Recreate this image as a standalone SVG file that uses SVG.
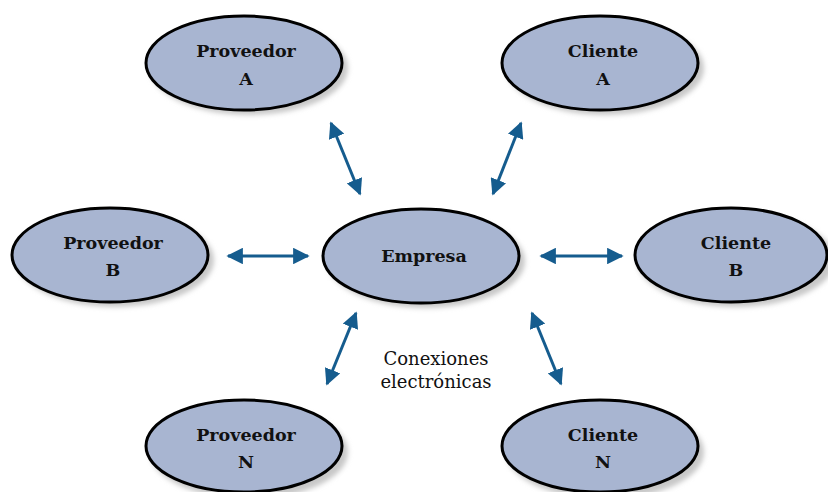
<svg xmlns="http://www.w3.org/2000/svg" width="828" height="492" viewBox="0 0 828 492">
<defs>
<filter id="sh" x="-20%" y="-20%" width="140%" height="140%"><feGaussianBlur stdDeviation="2.5"/></filter>
<marker id="ah" viewBox="0 0 10 10" refX="9" refY="5" markerWidth="5.5" markerHeight="5.5" orient="auto-start-reverse" markerUnits="strokeWidth"><path d="M0,0 L10,5 L0,10 Z" fill="#155c8e"/></marker>
</defs>
<style>
.shadow{fill:#c8c8c8;filter:url(#sh)}
.node{fill:#a8b5d1;stroke:#000;stroke-width:3}
.lbl{font-family:"DejaVu Serif","Liberation Serif",serif;font-weight:bold;font-size:17.5px;text-anchor:middle;fill:#111}
.cap{font-family:"DejaVu Serif","Liberation Serif",serif;font-size:18px;text-anchor:middle;fill:#111}
.con{stroke:#155c8e;stroke-width:3;fill:none;marker-start:url(#ah);marker-end:url(#ah)}
</style>
<rect width="828" height="492" fill="#fff"/>
<g id="connectors">
<line class="con" x1="331" y1="123" x2="360" y2="194"/>
<line class="con" x1="521" y1="123" x2="493" y2="194"/>
<line class="con" x1="228" y1="256" x2="308" y2="256"/>
<line class="con" x1="541" y1="256" x2="622" y2="256"/>
<line class="con" x1="356" y1="313" x2="327" y2="384"/>
<line class="con" x1="532" y1="313" x2="561" y2="384"/>
</g>
<g id="proveedorA">
<ellipse class="shadow" cx="249" cy="68" rx="99" ry="47"/>
<ellipse class="node" cx="244" cy="63" rx="98" ry="47"/>
<text class="lbl" x="246" y="57">Proveedor</text>
<text class="lbl" x="246" y="85">A</text>
</g>
<g id="clienteA">
<ellipse class="shadow" cx="605" cy="68" rx="99" ry="47"/>
<ellipse class="node" cx="600" cy="63" rx="98" ry="47"/>
<text class="lbl" x="603" y="57">Cliente</text>
<text class="lbl" x="603" y="85">A</text>
</g>
<g id="proveedorB">
<ellipse class="shadow" cx="115" cy="260" rx="99" ry="47"/>
<ellipse class="node" cx="110" cy="255" rx="98" ry="47"/>
<text class="lbl" x="113" y="249">Proveedor</text>
<text class="lbl" x="113" y="276">B</text>
</g>
<g id="empresa">
<ellipse class="shadow" cx="426" cy="261" rx="99" ry="47"/>
<ellipse class="node" cx="421" cy="256" rx="98" ry="47"/>
<text class="lbl" x="424" y="262">Empresa</text>
</g>
<g id="clienteB">
<ellipse class="shadow" cx="736" cy="260" rx="99" ry="47"/>
<ellipse class="node" cx="731" cy="255" rx="96" ry="47"/>
<text class="lbl" x="736" y="249">Cliente</text>
<text class="lbl" x="736" y="276">B</text>
</g>
<g id="proveedorN">
<ellipse class="shadow" cx="249" cy="452" rx="99" ry="47"/>
<ellipse class="node" cx="244" cy="446" rx="98" ry="46"/>
<text class="lbl" x="246" y="441">Proveedor</text>
<text class="lbl" x="246" y="468">N</text>
</g>
<g id="clienteN">
<ellipse class="shadow" cx="605" cy="452" rx="99" ry="47"/>
<ellipse class="node" cx="600" cy="446" rx="98" ry="46"/>
<text class="lbl" x="603" y="441">Cliente</text>
<text class="lbl" x="603" y="468">N</text>
</g>
<g id="caption">
<text class="cap" x="436" y="365">Conexiones</text>
<text class="cap" x="436" y="388">electrónicas</text>
</g>
</svg>
